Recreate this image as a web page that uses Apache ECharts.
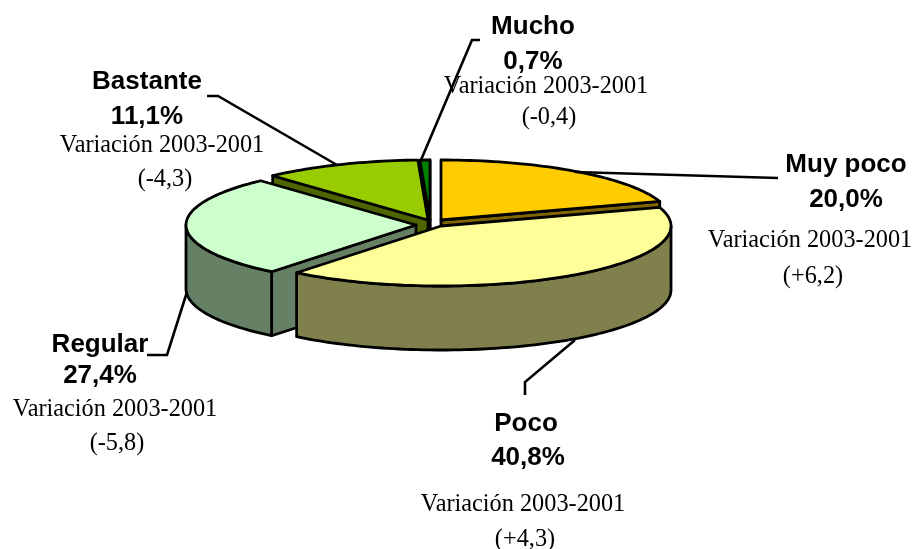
<!DOCTYPE html>
<html><head><meta charset="utf-8">
<style>html,body{margin:0;padding:0;background:#fff}#c{width:914px;height:549px}</style>
<script src="https://cdn.jsdelivr.net/npm/echarts@6/dist/echarts.min.js"></script>
</head><body><div id="c"></div>
<script>
// Data
const categories = ['Muy poco', 'Poco', 'Regular', 'Bastante', 'Mucho'];
const shares = [20.0, 40.8, 27.4, 11.1, 0.7];
const variations = ['+6,2', '+4,3', '-5,8', '-4,3', '-0,4'];
const variationTitle = 'Variación 2003-2001';

// Styles and layout
const topColors = ['#FFCC00', '#FFFF99', '#CCFFCC', '#99CC00', '#008000'];
const sideColors = ['#806600', '#80804D', '#668066', '#4D6600', '#004000'];
const apexes = [[441,220],[441,226],[416,225],[428,220],[430,220]];
const RX = 230, RY = 60, DEPTH = 64;
const boldFont = '"Liberation Sans", Arial, sans-serif';
const serifFont = '"Liberation Serif", "Times New Roman", serif';
const labelPos = [
  {n:[846,165], p:[846,200], v:[810,241], d:[813,277]},
  {n:[526,424], p:[528,458], v:[523,505], d:[525,540]},
  {n:[100,345], p:[100,376], v:[115,410], d:[117,444]},
  {n:[147,82],  p:[147,117], v:[162,146], d:[165,180]},
  {n:[533,27],  p:[533,62],  v:[546,87],  d:[549,118]}
];
const leaders = [
  [[778,178],[575,172]],
  [[525,395],[525,382],[575,340]],
  [[147,355],[167,355],[187,292]],
  [[207,96],[218,96],[337,165]],
  [[480,40],[472,40],[421,160]]
];

// Angular extents (degrees clockwise from 12 o'clock) derived from the shares
const total = shares.reduce((a,b)=>a+b,0);
let acc = 0;
const extents = shares.map(s => { const a0 = acc; acc += s/total*360; return [a0, acc]; });
const rad = d => d*Math.PI/180;
function rimPt(c, a, drop){ return [c[0]+RX*Math.sin(rad(a)), c[1]-RY*Math.cos(rad(a))+drop]; }
function arc(c, a0, a1, drop){
  const n = Math.max(2, Math.ceil((a1-a0)/1.5)), out=[];
  for(let i=0;i<=n;i++) out.push(rimPt(c, a0+(a1-a0)*i/n, drop));
  return out;
}
const strokeStyle = {stroke:'#000', lineWidth:2.8, lineJoin:'round'};
function poly(points, fill){
  return {type:'polygon', shape:{points}, style:Object.assign({fill}, strokeStyle), silent:true};
}
function drawSlice(i){
  const [a0,a1] = extents[i], c = apexes[i], kids = [];
  const down = p => [p[0], p[1]+DEPTH];
  // visible radial faces
  [[a0, Math.sin(rad(a0))<0],[a1, Math.sin(rad(a1))>0]].forEach(([a,vis])=>{
    if(!vis) return;
    const e = rimPt(c,a,0);
    kids.push(poly([c,e,down(e),down(c)], sideColors[i]));
  });
  // visible outer wall
  const f0 = Math.max(a0,90), f1 = Math.min(a1,270);
  if(f1>f0){
    const topArc = arc(c,f0,f1,0), botArc = arc(c,f0,f1,DEPTH).reverse();
    kids.push(poly(topArc.concat(botArc), sideColors[i]));
  }
  // top face
  kids.push(poly([c].concat(arc(c,a0,a1,0)), topColors[i]));
  return {type:'group', children:kids};
}
function fmt(v){ return v.toFixed(1).replace('.',',')+'%'; }
function txt(t,pos,bold){
  return {type:'text', silent:true, style:{text:t,x:pos[0],y:pos[1],align:'center',verticalAlign:'middle',fill:'#000',
    font: bold ? 'bold 26px '+boldFont : '24.3px '+serifFont}};
}
function drawLabel(i){
  const L = labelPos[i];
  return {type:'group', children:[
    {type:'polyline', silent:true, shape:{points:leaders[i]}, style:{fill:'none',stroke:'#000',lineWidth:2.6}},
    txt(categories[i],L.n,true),
    txt(fmt(shares[i]),L.p,true),
    txt(variationTitle,L.v,false),
    txt('('+variations[i]+')',L.d,false)
  ]};
}
// Painter's order: back slices first
const order = categories.map((_,i)=>i).sort((p,q)=>{
  const m = k => rad((extents[k][0]+extents[k][1])/2);
  return Math.cos(m(q))-Math.cos(m(p));
});
const chart = echarts.init(document.getElementById('c'), null, {renderer:'canvas'});
chart.setOption({
  backgroundColor:'#fff',
  animation:false,
  series:[
    {type:'custom', coordinateSystem:'none', silent:true, z:2,
     data:order.map(i=>({name:categories[i], value:[i, shares[i]]})),
     renderItem:(p,api)=>drawSlice(api.value(0))},
    {type:'custom', coordinateSystem:'none', silent:true, z:3,
     data:categories.map((n,i)=>({name:n, value:[i, shares[i]]})),
     renderItem:(p,api)=>drawLabel(api.value(0))}
  ]
});
</script></body></html>
